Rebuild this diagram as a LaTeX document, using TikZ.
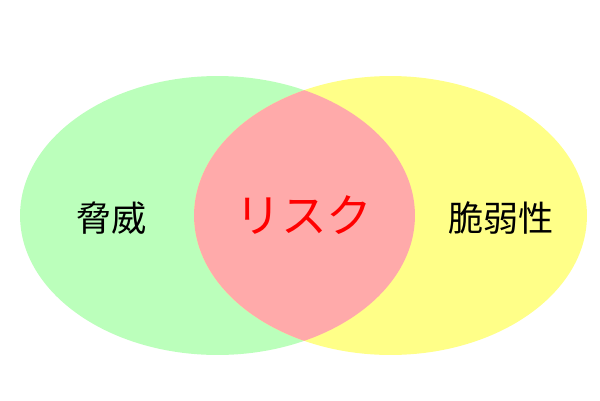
\documentclass[tikz,border=0pt]{standalone}
\usepackage{fontspec}
\usepackage{xcolor}
\usepackage{tikz}
\usetikzlibrary{positioning}
\newfontfamily\jpfont{Noto Sans CJK JP}
\definecolor{threatgreen}{RGB}{187,255,187}
\definecolor{vulnyellow}{RGB}{255,255,136}
\definecolor{riskpink}{RGB}{255,170,170}
\tikzset{
  threatset/.style={fill=threatgreen},
  vulnset/.style={fill=vulnyellow},
  riskset/.style={fill=riskpink},
  setlabel/.style={font=\jpfont\fontsize{20}{24}\selectfont, text=black},
  risklabel/.style={font=\jpfont\fontsize{26}{30}\selectfont, text=red},
}

\begin{document}
\begin{tikzpicture}[x=0.02cm, y=-0.02cm]
  \useasboundingbox (0,0) rectangle (600,400);
  \coordinate (tc) at (217.5,215.5);
  \coordinate (vc) at (390.5,215.5);
  \fill[threatset] (tc) ellipse [x radius=3.95cm, y radius=2.79cm];
  \fill[vulnset] (vc) ellipse [x radius=3.93cm, y radius=2.79cm];
  \begin{scope}
    \clip (tc) ellipse [x radius=3.95cm, y radius=2.79cm];
    \fill[riskset] (vc) ellipse [x radius=3.93cm, y radius=2.79cm];
  \end{scope}
  \node[setlabel] (threat) at (112,218) {脅威};
  \node[risklabel] (risk) at (304,215) {リスク};
  \node[setlabel] (vuln) at (501,218) {脆弱性};
\end{tikzpicture}
\end{document}
